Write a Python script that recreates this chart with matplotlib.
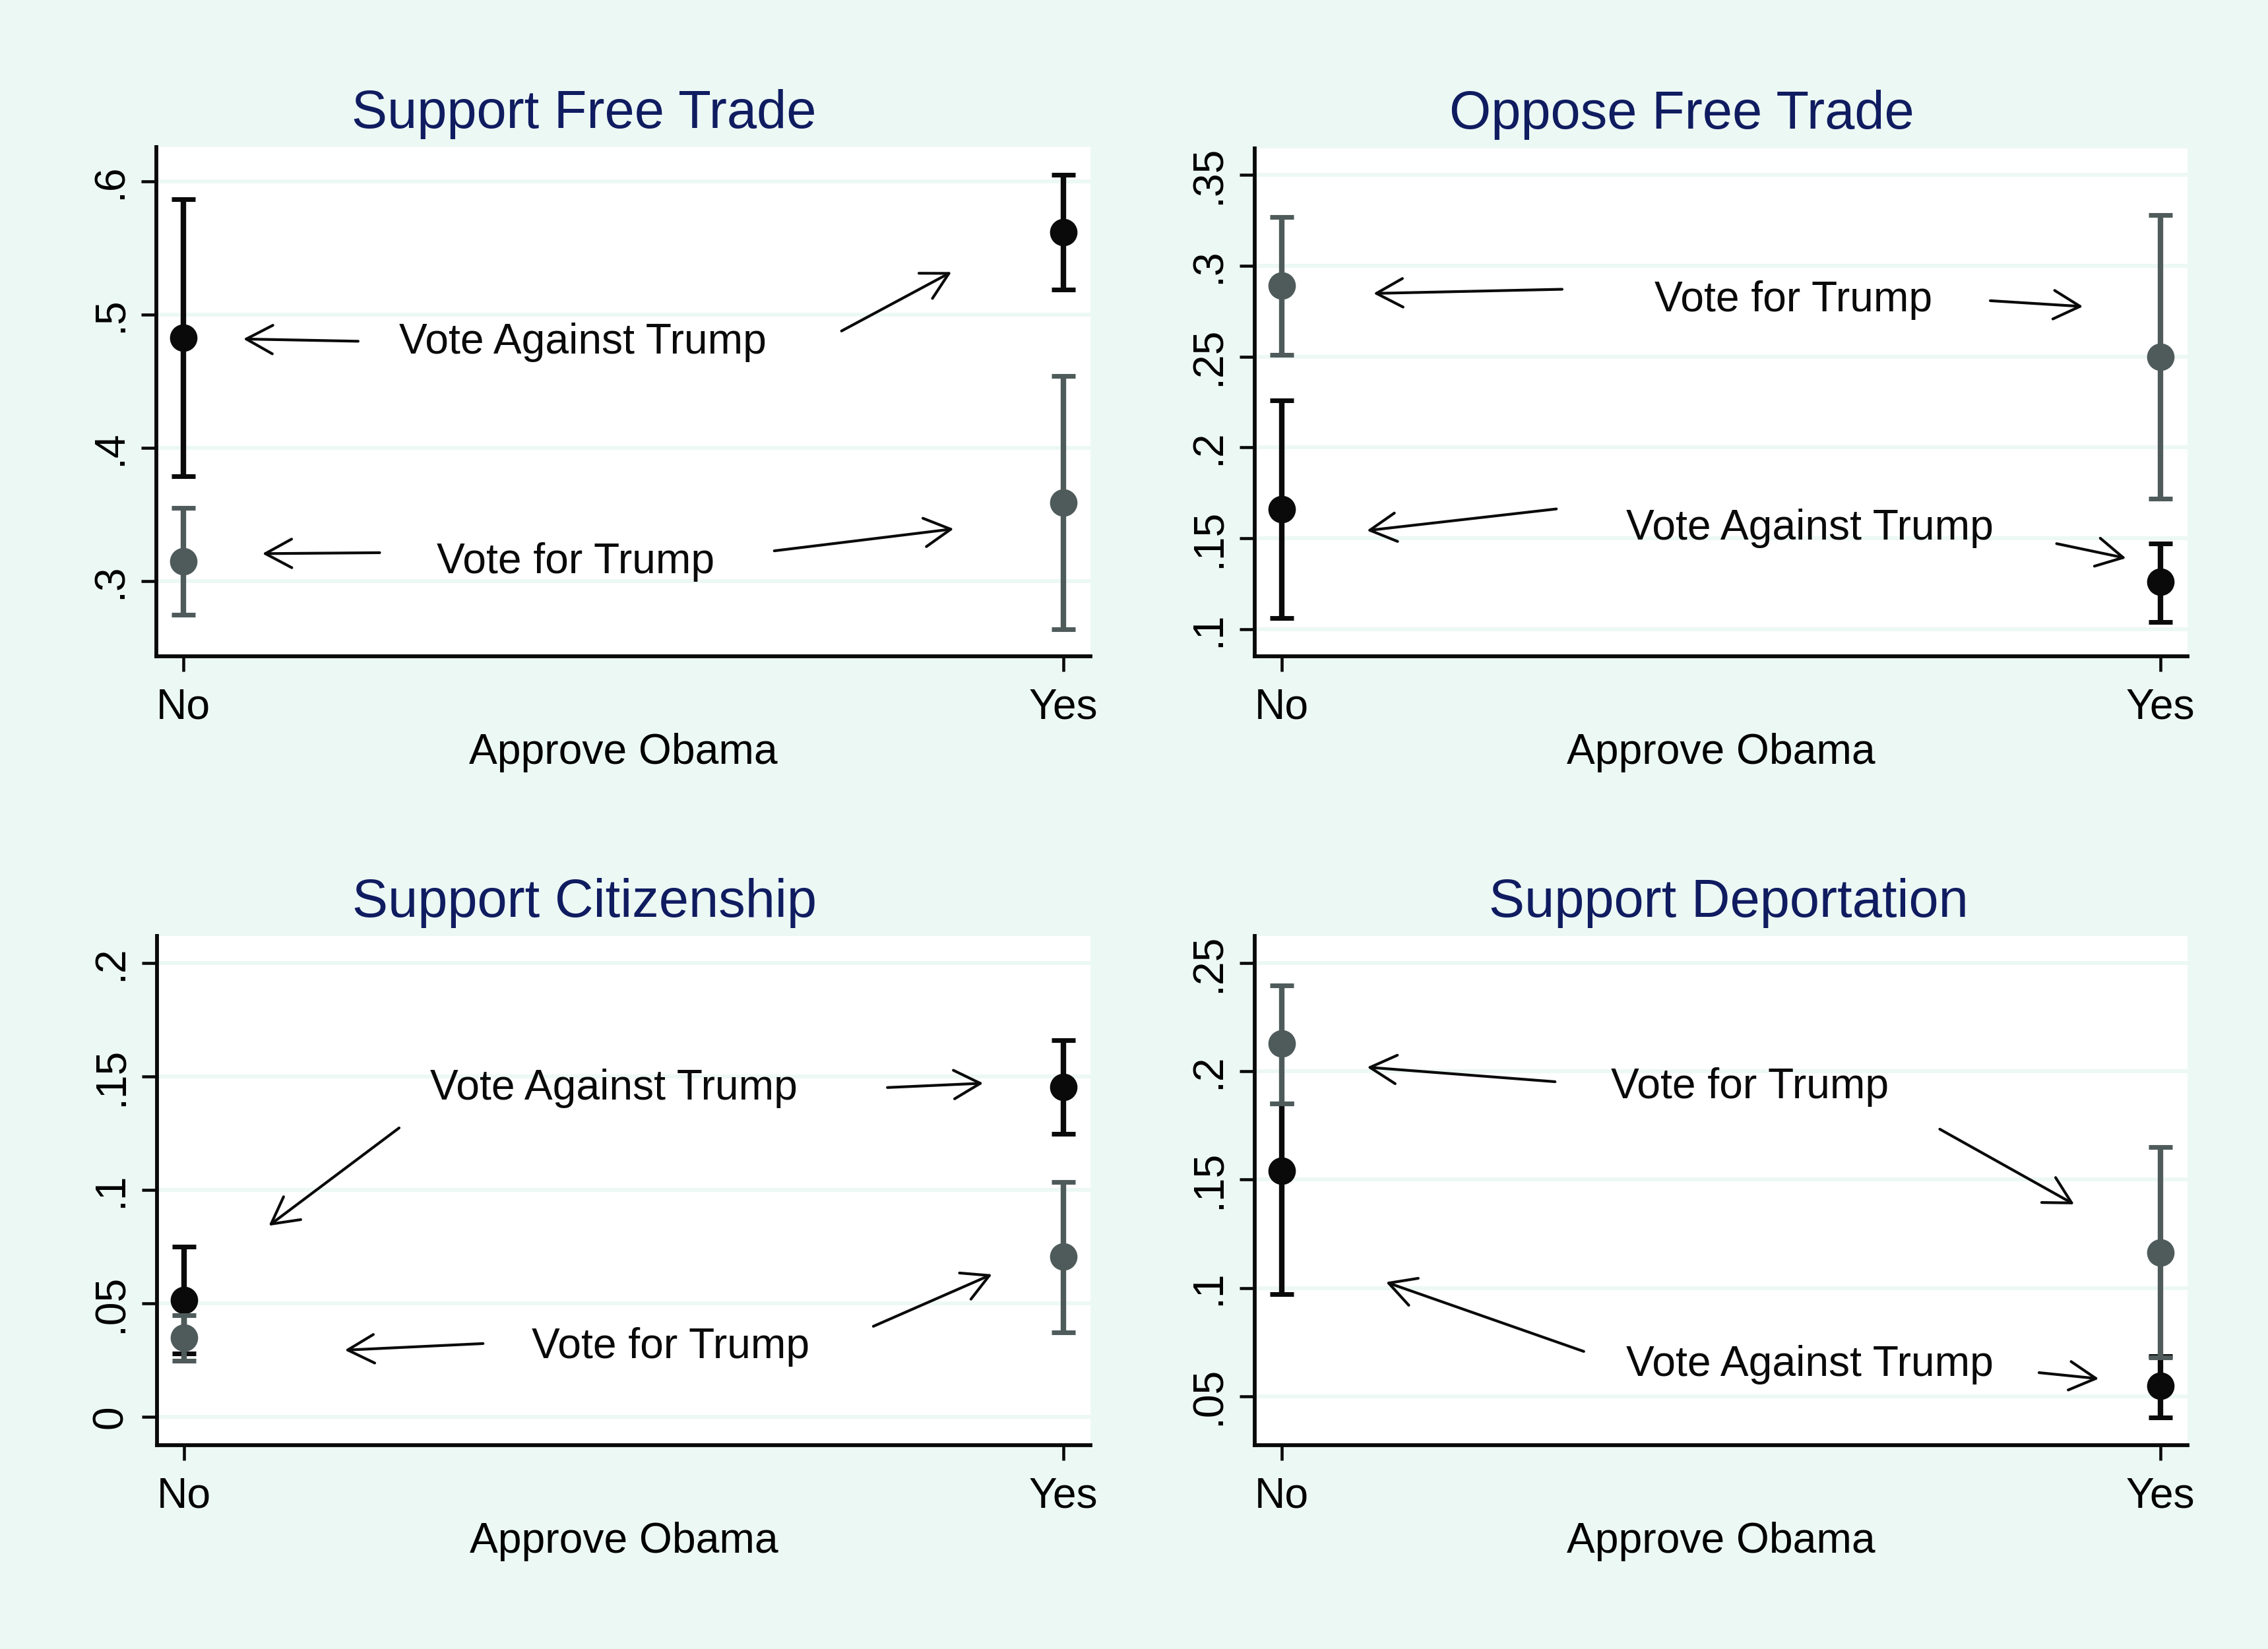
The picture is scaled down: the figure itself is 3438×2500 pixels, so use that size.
import matplotlib
matplotlib.use("Agg")
import matplotlib.pyplot as plt
from matplotlib.patches import FancyArrowPatch

plt.rcParams['font.family'] = ['Liberation Sans', 'DejaVu Sans']

# ---------------- data ----------------
groups = ["No", "Yes"]
titles = ["Support Free Trade", "Oppose Free Trade", "Support Citizenship", "Support Deportation"]
xlabel = "Approve Obama"

# Vote Against Trump (black)
against_mean = [[0.483, 0.562], [0.166, 0.126], [0.0515, 0.1455], [0.154, 0.0547]]
against_lo = [[0.379, 0.519], [0.106, 0.104], [0.028, 0.1248], [0.097, 0.0402]]
against_hi = [[0.587, 0.605], [0.226, 0.147], [0.075, 0.166], [0.185, 0.0686]]

# Vote for Trump (gray)
for_mean = [[0.315, 0.359], [0.289, 0.250], [0.0349, 0.0706], [0.2127, 0.1163]]
for_lo = [[0.275, 0.264], [0.251, 0.172], [0.0248, 0.0374], [0.185, 0.0679]]
for_hi = [[0.355, 0.454], [0.327, 0.328], [0.0448, 0.1036], [0.2396, 0.165]]

yticks = [[0.3, 0.4, 0.5, 0.6],
          [0.1, 0.15, 0.2, 0.25, 0.3, 0.35],
          [0, 0.05, 0.1, 0.15, 0.2],
          [0.05, 0.1, 0.15, 0.2, 0.25]]
ytick_labels = [[".3", ".4", ".5", ".6"],
                [".1", ".15", ".2", ".25", ".3", ".35"],
                ["0", ".05", ".1", ".15", ".2"],
                [".05", ".1", ".15", ".2", ".25"]]

# ---------------- layout / annotation ----------------
ylims = [(0.2436, 0.626), (0.0851, 0.3648), (-0.0123, 0.2119), (0.0275, 0.2624)]
positions = [[0.0689, 0.602, 0.4119, 0.3088],
             [0.5532, 0.602, 0.4113, 0.3082],
             [0.0692, 0.1237, 0.4116, 0.3086],
             [0.5532, 0.1237, 0.4113, 0.3086]]
title_x = [0.458, 0.458, 0.458, 0.508]

# (text, x, y_baseline, [arrows (x0,y0,x1,y1)])
annotations = [
    [("Vote Against Trump", 0.4537, 0.471, [(0.1985, 0.4802, 0.068, 0.4819), (0.748, 0.4879, 0.873, 0.5322)]),
     ("Vote for Trump", 0.446, 0.306, [(0.223, 0.3214, 0.0897, 0.3207), (0.6716, 0.3228, 0.8755, 0.3393)])],
    [("Vote for Trump", 0.582, 0.275, [(0.319, 0.2871, 0.1043, 0.2848), (0.8065, 0.2808, 0.912, 0.2776)]),
     ("Vote Against Trump", 0.601, 0.1492, [(0.3125, 0.1662, 0.0968, 0.1543), (0.882, 0.1471, 0.961, 0.1391)])],
    [("Vote Against Trump", 0.4887, 0.1399, [(0.2445, 0.1274, 0.0962, 0.0843), (0.800, 0.1452, 0.909, 0.1471)]),
     ("Vote for Trump", 0.553, 0.0259, [(0.340, 0.0324, 0.1827, 0.0295), (0.784, 0.040, 0.919, 0.0629)])],
    [("Vote for Trump", 0.533, 0.1875, [(0.311, 0.1952, 0.097, 0.2019), (0.749, 0.1733, 0.902, 0.1386)]),
     ("Vote Against Trump", 0.601, 0.0594, [(0.3437, 0.0707, 0.1184, 0.1027), (0.862, 0.0609, 0.930, 0.0581)])],
]

BG = "#ecf8f4"
BLACK = "#0a0a0a"
GRAY = "#4f5b5b"
NAVY = "#101c60"
FS = 15.4

fig = plt.figure(figsize=(3438 / 300, 2500 / 300), dpi=300, facecolor=BG)

xpos = list(range(len(groups)))
for i in range(4):
    ax = fig.add_axes(positions[i])
    ax.set_facecolor("white")
    ax.set_xlim(-0.031, 1.031)
    ax.set_ylim(*ylims[i])
    for sp in ["top", "right"]:
        ax.spines[sp].set_visible(False)
    for sp in ["left", "bottom"]:
        ax.spines[sp].set_linewidth(1.4)
        ax.spines[sp].set_color(BLACK)
    ax.set_yticks(yticks[i])
    ax.set_yticklabels(ytick_labels[i], rotation=90, va="center")
    ax.set_xticks(xpos)
    ax.set_xticklabels(groups)
    ax.tick_params(axis="both", length=5.5, width=1.1, color=BLACK, labelsize=FS)
    ax.tick_params(axis="y", pad=4)
    ax.tick_params(axis="x", pad=6)
    ax.grid(axis="y", color=BG, linewidth=1.4)
    ax.set_axisbelow(True)
    ax.set_xlabel(xlabel, fontsize=FS, labelpad=2)
    ax.set_title(titles[i], fontsize=19.5, color=NAVY, x=title_x[i], pad=7)

    m, lo, hi = against_mean[i], against_lo[i], against_hi[i]
    ax.errorbar(xpos, m, yerr=[[a - b for a, b in zip(m, lo)], [b - a for a, b in zip(m, hi)]],
                fmt="o", color=BLACK, ms=9, elinewidth=2.0, capsize=4.3, capthick=1.7, zorder=3)
    m, lo, hi = for_mean[i], for_lo[i], for_hi[i]
    ax.errorbar(xpos, m, yerr=[[a - b for a, b in zip(m, lo)], [b - a for a, b in zip(m, hi)]],
                fmt="o", color=GRAY, ms=9, elinewidth=2.0, capsize=4.3, capthick=1.7, zorder=4)

    for text, tx, ty, arrows in annotations[i]:
        ax.text(tx, ty, text, ha="center", va="baseline", fontsize=FS, color=BLACK, zorder=5)
        for x0, y0, x1, y1 in arrows:
            arr = FancyArrowPatch((x0, y0), (x1, y1),
                                  arrowstyle="->,head_length=0.48,head_width=0.26",
                                  mutation_scale=20, lw=1.0, color=BLACK,
                                  shrinkA=0, shrinkB=0, zorder=5)
            ax.add_patch(arr)

fig.savefig("out.png", dpi=300, facecolor=BG)
